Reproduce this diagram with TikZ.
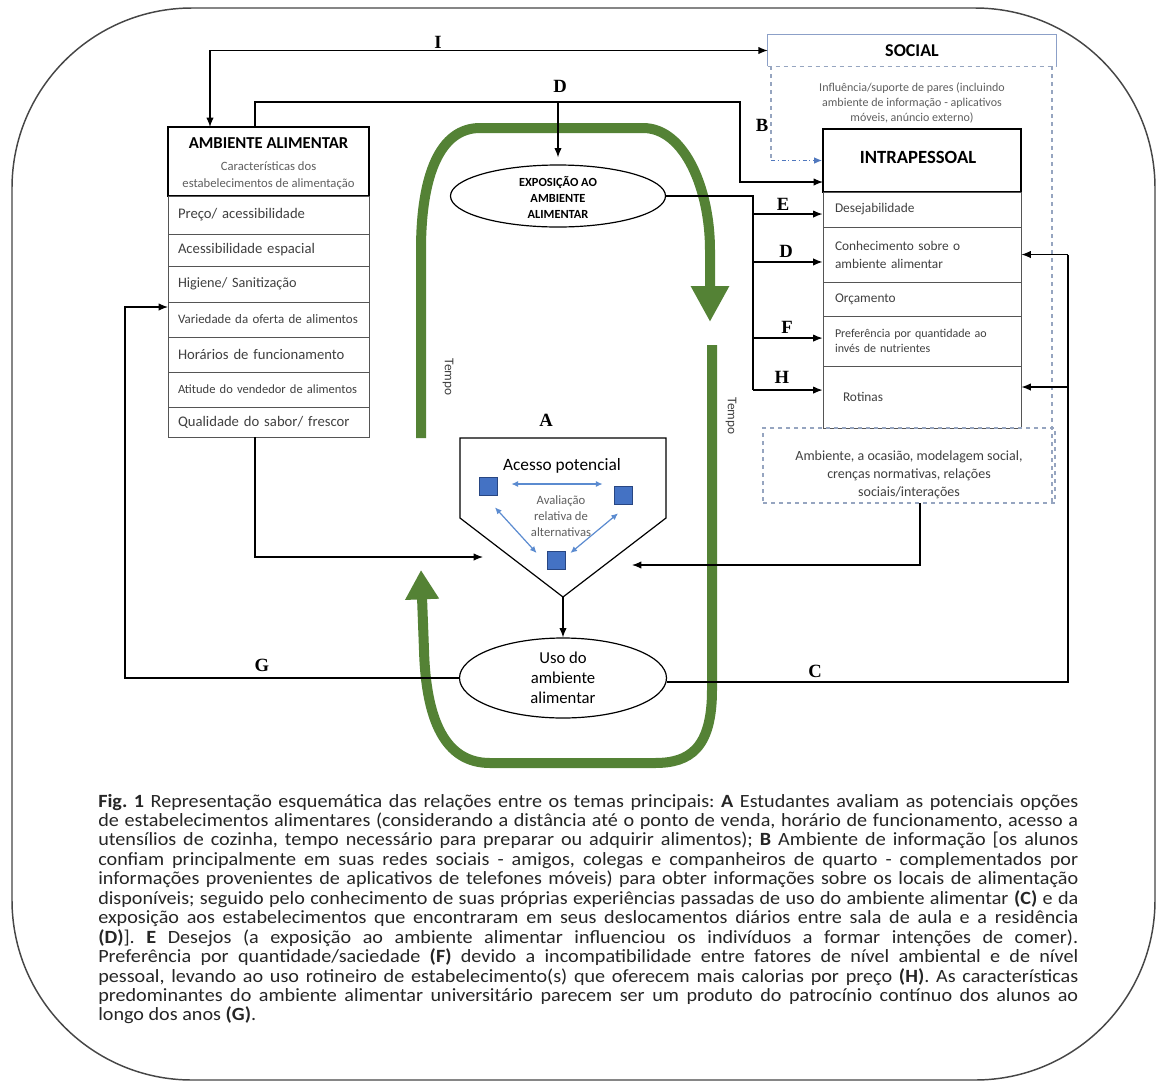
\documentclass[tikz,border=0pt]{standalone}
\usepackage{fontspec}
\setmainfont{Carlito}
\newfontfamily\labfont{Liberation Serif}
\newfontfamily\capfont[FakeStretch=1.08]{Carlito}
\usetikzlibrary{arrows.meta,shapes.geometric,calc}
\definecolor{grn}{RGB}{84,130,53}
\definecolor{txtg}{RGB}{64,64,64}
\definecolor{subg}{RGB}{95,95,95}
\definecolor{dashc}{RGB}{150,165,192}
\definecolor{socb}{RGB}{140,160,200}
\definecolor{bsq}{RGB}{68,114,196}
\definecolor{bsqd}{RGB}{40,70,130}
\definecolor{barc}{RGB}{91,139,208}
\definecolor{bdd}{RGB}{80,120,190}
\definecolor{rowc}{RGB}{85,85,85}
\definecolor{framec}{RGB}{70,70,70}
\newcommand{\capline}[1]{\makebox[735pt][s]{#1}}
\begin{document}
\begin{tikzpicture}[x=0.75pt,y=-0.75pt,
  arr/.style={draw=black, line width=0.9pt, -{Latex[length=7pt,width=5.5pt]}},
  arrtwo/.style={draw=black, line width=0.9pt, {Latex[length=7pt,width=5.5pt]}-{Latex[length=7pt,width=5.5pt]}},
  ln/.style={draw=black, line width=0.9pt},
  titlebox/.style={draw=black, line width=1.4pt, inner sep=0},
  arow/.style={draw=rowc, line width=0.7pt, minimum width=150.75pt, text width=135.75pt, inner xsep=7.5pt, inner ysep=0, align=left, text=txtg},
  irow/.style={draw=rowc, line width=0.7pt, minimum width=148.5pt, text width=130.5pt, inner xsep=9pt, inner ysep=0, align=left, text=txtg},
  lab/.style={font=\labfont\bfseries\fontsize{14}{16}\selectfont, inner sep=0},
  dsh/.style={draw=dashc, dashed, line width=0.8pt},
  bsqs/.style={fill=bsq, draw=bsqd, line width=0.6pt, minimum size=13.5pt, inner sep=0},
  barr/.style={draw=barc, line width=0.9pt, {Latex[length=5pt,width=4.5pt]}-{Latex[length=5pt,width=4.5pt]}},
  gline/.style={draw=grn, line width=7.5pt},
  capl/.style={anchor=base west, inner sep=0, font=\capfont\frenchspacing\fontsize{14}{14.6}\selectfont, text=black!85}
]
\useasboundingbox (0,0) rectangle (1165,1086);
\fill[white] (0,0) rectangle (1165,1086);
\draw[framec, line width=1.1pt, rounded corners=135pt] (12,8) rectangle (1155,1080);

% green time loop
\draw[gline, -{Triangle[length=27pt,width=27pt]}] (421,438) -- (421,250) .. controls (421,175) and (440,128) .. (480,128) -- (643,128) .. controls (685,128) and (710,190) .. (710,250) -- (710,322);
\draw[gline, -{Triangle[length=22pt,width=24pt]}] (712,345) -- (712,690) .. controls (712,748) and (690,763) .. (655,763) -- (490,763) .. controls (445,763) and (426,720) .. (424,650) -- (421,570);
\node[font=\fontsize{10}{12}\selectfont, rotate=-90, text=txtg] (tempoL) at (448,377) {Tempo};
\node[font=\fontsize{10}{12}\selectfont, rotate=-90, text=txtg] (tempoR) at (731,416) {Tempo};

% AMBIENTE ALIMENTAR
\node[titlebox, minimum width=150.75pt, minimum height=51.75pt] (amb) at (268.5,161.5) {};
\node[font=\bfseries\fontsize{12.5}{14}\selectfont] (ambt) at (268.5,143) {AMBIENTE ALIMENTAR};
\node[font=\fontsize{9.5}{12.75}\selectfont, text=subg, align=center] (ambs) at (268.5,176) {Características dos\\estabelecimentos de alimentação};
\node[arow, minimum height=28.5pt, font=\fontsize{11}{13}\selectfont] (a1) at (268.5,215) {Preço/ acessibilidade};
\node[arow, minimum height=24pt, font=\fontsize{11}{13}\selectfont] (a2) at (268.5,250) {Acessibilidade espacial};
\node[arow, minimum height=27pt, font=\fontsize{10.7}{13}\selectfont] (a3) at (268.5,284) {Higiene/ Sanitização};
\node[arow, minimum height=26.25pt, font=\fontsize{9.7}{12}\selectfont] (a4) at (268.5,319.5) {Variedade da oferta de alimentos};
\node[arow, minimum height=26.25pt, font=\fontsize{11}{13}\selectfont] (a5) at (268.5,354.5) {Horários de funcionamento};
\node[arow, minimum height=26.25pt, font=\fontsize{9.4}{12}\selectfont] (a6) at (268.5,389.5) {\mbox{Atitude do vendedor de alimentos}};
\node[arow, minimum height=22.5pt, font=\fontsize{11}{13}\selectfont] (a7) at (268.5,422) {Qualidade do sabor/ frescor};

% SOCIAL
\node[minimum width=216pt, minimum height=23.25pt, inner sep=0, font=\bfseries\fontsize{13.5}{15}\selectfont] (soc) at (912,50.5) {SOCIAL};
\draw[socb, line width=0.8pt] (soc.south west) |- (soc.north east) -- (soc.south east);
\draw[dsh] (soc.south west) -- (soc.south east);
\node[font=\fontsize{9}{11.25}\selectfont, text=subg, align=center] (infl) at (912,103) {Influência/suporte de pares (incluindo\\ambiente de informação - aplicativos\\móveis, anúncio externo)};

% INTRAPESSOAL
\node[titlebox, minimum width=148.5pt, minimum height=47.25pt] (intra) at (922,160.5) {};
\node[font=\bfseries\fontsize{14}{16}\selectfont] (intrat) at (918,157) {INTRAPESSOAL};
\node[irow, minimum height=26.25pt, font=\fontsize{10}{12}\selectfont] (i1) at (922,209.5) {Desejabilidade};
\node[irow, minimum height=41.25pt, font=\fontsize{10}{13.5}\selectfont] (i2) at (922,254.5) {Conhecimento sobre o\\ambiente alimentar};
\node[irow, minimum height=25.5pt, font=\fontsize{10}{12}\selectfont] (i3) at (922,299) {Orçamento};
\node[irow, minimum height=37.5pt, font=\fontsize{9}{11.25}\selectfont] (i4) at (922,341) {Preferência por quantidade ao\\invés de nutrientes};
\node[irow, minimum height=46.5pt, font=\fontsize{10}{12}\selectfont] (i5) at (922,397) {\hspace*{6pt}Rotinas};

% dashed social region
\coordinate (bC) at (771,160.5);
\coordinate (sR) at (1052,66);
\draw[dsh] (soc.south west -| bC) -- (bC);
\draw[dsh] (sR) -- (1052,503);
\node[draw=dashc, dashed, line width=0.8pt, minimum width=219pt, minimum height=56.25pt, inner sep=0] (ctxbox) at (909,465.5) {};
\node[font=\fontsize{10.5}{13.5}\selectfont, text=txtg, align=center] (ctx) at (909,475) {Ambiente, a ocasião, modelagem social,\\crenças normativas, relações\\sociais/interações};
\draw[draw=bdd, line width=0.9pt, dash dot, -{Latex[length=6pt,width=5pt]}] (bC) -- (intra.west);

% EXPOSICAO
\node[draw, ellipse, line width=0.9pt, minimum width=161.25pt, minimum height=46.5pt, inner sep=0] (expo) at (558,196) {};
\node[font=\bfseries\fontsize{9.3}{12}\selectfont, align=center] (expot) at (558,197) {EXPOSIÇÃO AO\\AMBIENTE\\ALIMENTAR};

% funnel A
\draw[line width=0.9pt] (460,438) -- (666,438) -- (666,518) -- (563,597) -- (460,518) -- cycle;
\coordinate (funB) at (563,597);
\coordinate (funL) at (483,557);
\coordinate (funR) at (632,565);
\node[font=\fontsize{13}{15}\selectfont] (acc) at (562,466) {Acesso potencial};
\node[font=\fontsize{9.5}{12}\selectfont, text=subg, align=center] (aval) at (561,516) {Avaliação\\relativa de\\alternativas};
\node[bsqs] (s1) at (488,486) {};
\node[bsqs] (s2) at (623,495) {};
\node[bsqs] (s3) at (556,560) {};
\draw[barr] ($(s1.east)+(14,-2)$) -- ($(s2.west)+(-11,-11)$);
\draw[barr] ($(s1.south)+(7,12)$) -- ($(s3.west)+(-10,-7)$);
\draw[barr] ($(s2.south)+(-5,9)$) -- ($(s3.east)+(5,-7)$);

% USO
\node[draw, ellipse, line width=0.9pt, minimum width=155.25pt, minimum height=60pt, inner sep=0] (uso) at (563,678) {};
\node[font=\fontsize{12.5}{15}\selectfont, align=center] (usot) at (563,678) {Uso do\\ambiente\\alimentar};

% connectors
\coordinate (ambI) at (210,127);
\draw[arrtwo] (ambI) |- (soc.west);
\coordinate (ambT) at (255,127);
\coordinate (kD) at (740,102);
\coordinate (intraIn) at (823,182);
\draw[arr] (ambT) |- (kD) |- (intraIn);
\coordinate (dTop) at (558,102);
\draw[arr] (dTop) -- ($(expo.north)+(0,-7)$);
\coordinate (eJ) at (753,196);
\coordinate (i1l) at ([yshift=-3.4pt]i1.west);
\coordinate (i2l) at ([yshift=-5.6pt]i2.west);
\coordinate (i4l) at ([yshift=2.2pt]i4.west);
\coordinate (i5l) at ([yshift=5.2pt]i5.west);
\draw[ln] (expo.east) -- (eJ) -- (eJ |- i5l);
\draw[arr] (eJ |- i1l) -- (i1l);
\draw[arr] (eJ |- i2l) -- (i2l);
\draw[arr] (eJ |- i4l) -- (i4l);
\draw[arr] (eJ |- i5l) -- (i5l);
\coordinate (usoR) at ([yshift=-3pt]uso.east);
\coordinate (cR) at (1068,682);
\coordinate (i5r) at ([yshift=7.5pt]i5.east);
\draw[ln] (usoR) -- (cR) -- (cR |- i2.east);
\draw[arr] (cR |- i2.east) -- (i2.east);
\draw[arr] (cR |- i5r) -- (i5r);
\coordinate (gL) at (125,307);
\coordinate (gIn) at (168,307);
\draw[arr] (uso.west) -| (gL) -- (gIn);
\coordinate (ambB) at (255,437);
\draw[arr] (ambB) |- (funL);
\coordinate (ctxB) at (920,503);
\draw[arr] (ctxB) |- (funR);
\draw[arr] (funB) -- (uso.north);

% letter labels
\node[lab] (lI) at (438,42) {I};
\node[lab] (lD1) at (560,86) {D};
\node[lab] (lB) at (762,125) {B};
\node[lab] (lE) at (783,204) {E};
\node[lab] (lD2) at (786,251) {D};
\node[lab] (lF) at (787,327) {F};
\node[lab] (lH) at (782,377) {H};
\node[lab] (lA) at (546,420) {A};
\node[lab] (lG) at (262,665) {G};
\node[lab] (lC) at (815,671) {C};

% caption
\node[capl] (c1) at (98,807) {\capline{\textbf{Fig. 1} Representação esquemática das relações entre os temas principais: \textbf{A} Estudantes avaliam as potenciais opções}};
\node[capl] (c2) at (98,826.45) {\capline{de estabelecimentos alimentares (considerando a distância até o ponto de venda, horário de funcionamento, acesso a}};
\node[capl] (c3) at (98,845.9) {\capline{utensílios de cozinha, tempo necessário para preparar ou adquirir alimentos); \textbf{B} Ambiente de informação [os alunos}};
\node[capl] (c4) at (98,865.35) {\capline{confiam principalmente em suas redes sociais - amigos, colegas e companheiros de quarto - complementados por}};
\node[capl] (c5) at (98,884.8) {\capline{informações provenientes de aplicativos de telefones móveis) para obter informações sobre os locais de alimentação}};
\node[capl] (c6) at (98,904.25) {\capline{disponíveis; seguido pelo conhecimento de suas próprias experiências passadas de uso do ambiente alimentar \textbf{(C)} e da}};
\node[capl] (c7) at (98,923.7) {\capline{exposição aos estabelecimentos que encontraram em seus deslocamentos diários entre sala de aula e a residência}};
\node[capl] (c8) at (98,943.15) {\capline{\textbf{(D)}]. \textbf{E} Desejos (a exposição ao ambiente alimentar influenciou os indivíduos a formar intenções de comer).}};
\node[capl] (c9) at (98,962.6) {\capline{Preferência por quantidade/saciedade \textbf{(F)} devido a incompatibilidade entre fatores de nível ambiental e de nível}};
\node[capl] (c10) at (98,982.05) {\capline{pessoal, levando ao uso rotineiro de estabelecimento(s) que oferecem mais calorias por preço \textbf{(H)}. As características}};
\node[capl] (c11) at (98,1001.5) {\capline{predominantes do ambiente alimentar universitário parecem ser um produto do patrocínio contínuo dos alunos ao}};
\node[capl] (c12) at (98,1020.95) {longo dos anos \textbf{(G)}.};
\end{tikzpicture}
\end{document}
